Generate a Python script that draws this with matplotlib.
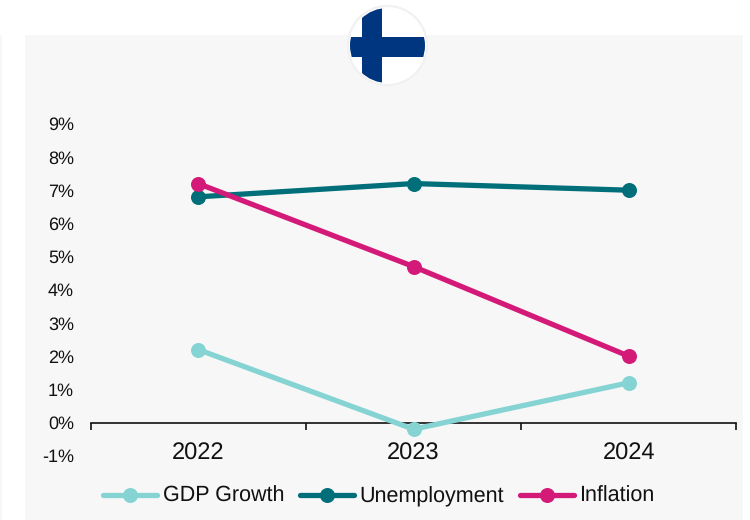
import matplotlib
matplotlib.use("Agg")
import matplotlib.pyplot as plt
from matplotlib.lines import Line2D
from matplotlib.patches import Circle, Rectangle

plt.rcParams['font.family'] = ['Liberation Sans', 'DejaVu Sans']
plt.rcParams['text.hinting'] = 'no_hinting'

years = ['2022', '2023', '2024']
gdp_growth = [2.2, -0.2, 1.2]
unemployment = [6.8, 7.2, 7.0]
inflation = [7.2, 4.7, 2.0]
pct_ticks = [-1, 0, 1, 2, 3, 4, 5, 6, 7, 8, 9]

W, H = 750, 520
PANEL = '#F7F7F7'
FLAG_BLUE = '#003580'
series = [('GDP Growth', gdp_growth, '#85D4D3'),
          ('Unemployment', unemployment, '#006F7A'),
          ('Inflation', inflation, '#D31A78')]

fig = plt.figure(figsize=(W / 100, H / 100), dpi=100, facecolor='white')

# background panel, in pixel coordinates
bg = fig.add_axes([0, 0, 1, 1], zorder=0)
bg.set_xlim(0, W)
bg.set_ylim(H, 0)
bg.axis('off')
bg.add_patch(Rectangle((25, 35), 718, 485, fc=PANEL, ec='none'))
bg.add_patch(Rectangle((0, 35), 2, 485, fc=PANEL, ec='none'))

ax = fig.add_axes([90.5 / W, 1 - 455.8 / H, 646 / W, 332 / H], zorder=1)
ax.patch.set_visible(False)
for name, vals, col in series:
    ax.plot(range(3), vals, color=col, lw=3.8, marker='o', ms=10.8,
            mew=0, clip_on=False, zorder=3)

ax.set_xlim(-0.5, 2.5)
ax.set_ylim(-1, 9)
ax.set_yticks(pct_ticks)
ax.set_yticklabels([f'{v}%' for v in pct_ticks], fontsize=13, color='#111111')
ax.tick_params(axis='y', length=0, pad=12)

# boundaries get the tick marks, the year labels sit between them
ax.set_xticks([-0.5, 0.5, 1.5, 2.5])
ax.set_xticklabels([])
ax.set_xticks([0, 1, 2], minor=True)
ax.set_xticklabels(years, minor=True)
ax.tick_params(axis='x', which='major', length=5, width=1.2, direction='out', color='#111111')
ax.tick_params(axis='x', which='minor', length=0, pad=14, labelsize=17, labelcolor='#111111')

for s in ['top', 'right', 'left']:
    ax.spines[s].set_visible(False)
ax.spines['bottom'].set_position(('data', 0))
ax.spines['bottom'].set_linewidth(1.2)
ax.spines['bottom'].set_color('#111111')
ax.spines['bottom'].set_zorder(2)

handles = [Line2D([0], [0], color=c, lw=3.8, marker='o', ms=10.8, mew=0,
                  solid_capstyle='round', label=n) for n, _, c in series]
fig.legend(handles=handles, loc='center', bbox_to_anchor=(379 / W, 1 - 496.5 / H),
           ncols=3, frameon=False, fontsize=15.5, handlelength=2.5,
           handletextpad=0.25, columnspacing=0.75, labelcolor='#111111',
           borderpad=0, borderaxespad=0)

# Finnish flag badge at the top
top = fig.add_axes([0, 0, 1, 1], zorder=2)
top.set_xlim(0, W)
top.set_ylim(H, 0)
top.axis('off')
top.add_patch(Circle((387.5, 45.5), 39.5, fc='white', ec='#F1F1F1', lw=1.6))
clip = Circle((387.5, 45.5), 37.5, transform=top.transData)
for xy, w, h in [((362, 5), 20, 81), ((345, 37), 85, 20)]:
    bar = Rectangle(xy, w, h, fc=FLAG_BLUE, ec='none')
    top.add_patch(bar)
    bar.set_clip_path(clip)

fig.savefig('out.png', dpi=100)
